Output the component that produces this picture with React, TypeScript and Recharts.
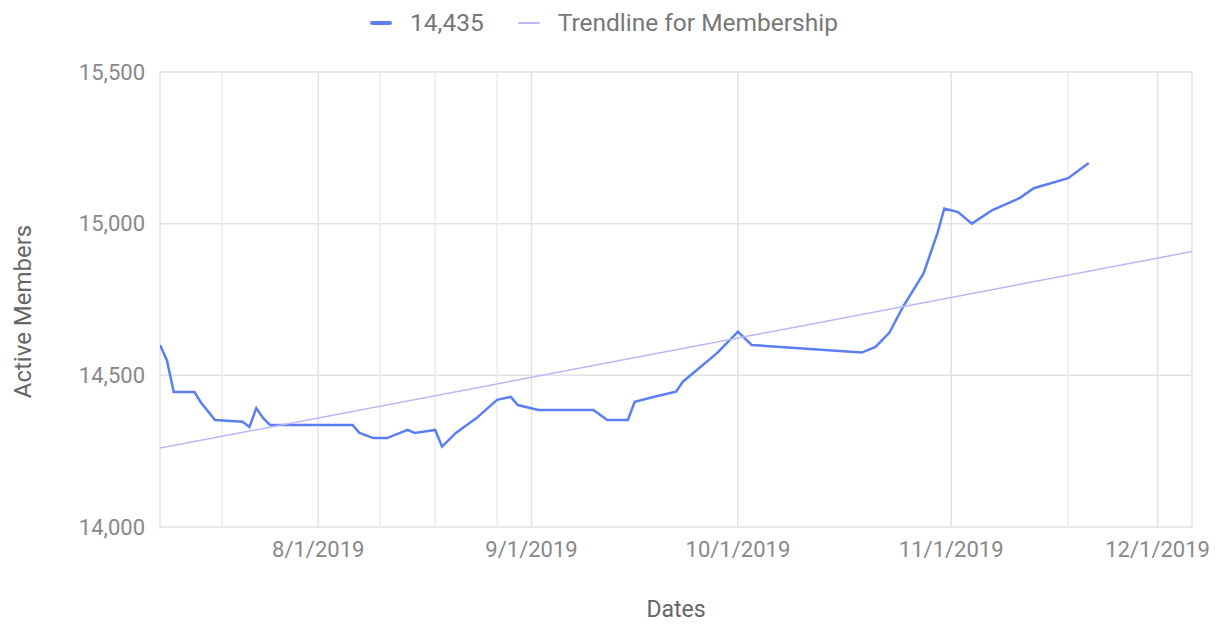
import { CartesianGrid, Legend, Line, LineChart, ReferenceLine, XAxis, YAxis } from "recharts";

const memberDates = [
  "7/9/2019", "7/10/2019", "7/11/2019", "7/14/2019", "7/15/2019", "7/17/2019", "7/21/2019",
  "7/22/2019", "7/23/2019", "7/24/2019", "7/25/2019", "8/6/2019", "8/7/2019", "8/9/2019",
  "8/11/2019", "8/14/2019", "8/15/2019", "8/18/2019", "8/19/2019", "8/21/2019", "8/24/2019",
  "8/27/2019", "8/29/2019", "8/30/2019", "9/2/2019", "9/10/2019", "9/12/2019", "9/15/2019",
  "9/16/2019", "9/19/2019", "9/22/2019", "9/23/2019", "9/28/2019", "10/1/2019", "10/3/2019",
  "10/19/2019", "10/21/2019", "10/23/2019", "10/25/2019", "10/28/2019", "10/30/2019",
  "10/31/2019", "11/2/2019", "11/4/2019", "11/7/2019", "11/11/2019", "11/13/2019",
  "11/18/2019", "11/21/2019",
];
const memberCounts = [
  14600, 14550, 14445, 14445, 14409, 14353, 14347,
  14330, 14392, 14359, 14336, 14336, 14310, 14293,
  14293, 14320, 14310, 14320, 14265, 14310, 14359,
  14419, 14429, 14402, 14386, 14386, 14353, 14353,
  14413, 14430, 14446, 14479, 14574, 14644, 14600,
  14575, 14594, 14640, 14726, 14837, 14969,
  15050, 15038, 15000, 15045, 15085, 15117,
  15150, 15200,
];

const trendDates = ["7/9/2019", "12/6/2019"];
const trendValues = [14260, 14908];

const xTickDates = ["8/1/2019", "9/1/2019", "10/1/2019", "11/1/2019", "12/1/2019"];
const minorGridDates = ["7/18/2019", "8/10/2019", "8/18/2019", "8/27/2019", "11/18/2019"];
const yTicks = [14000, 14500, 15000, 15500];

const toTime = (s: string) => {
  const [m, d, y] = s.split("/").map(Number);
  return Date.UTC(y, m - 1, d);
};
const fmtDate = (t: number) => {
  const d = new Date(t);
  return `${d.getUTCMonth() + 1}/${d.getUTCDate()}/${d.getUTCFullYear()}`;
};

const members = memberDates.map((date, i) => ({ t: toTime(date), members: memberCounts[i] }));
const trend = trendDates.map((date, i) => ({ t: toTime(date), trend: trendValues[i] }));

const FONT = "Roboto, 'Noto Sans', sans-serif";

function LegendContent({ payload }: any) {
  return (
    <div style={{ display: "flex", justifyContent: "center", alignItems: "center", paddingRight: 16, fontFamily: FONT, fontSize: 24.5, color: "#777" }}>
      {(payload || []).map((p: any, i: number) => (
        <div key={i} style={{ display: "flex", alignItems: "center", marginRight: i === 0 ? 34 : 0 }}>
          <span style={{ display: "inline-block", width: 22, height: i === 0 ? 4 : 2, borderRadius: 2, background: p.color, marginRight: 18 }} />
          <span>{p.value}</span>
        </div>
      ))}
    </div>
  );
}

function YTitle({ viewBox }: any) {
  const cy = viewBox.y + viewBox.height / 2 + 12;
  return (
    <text x={31} y={cy} transform={`rotate(-90, 31, ${cy})`} textAnchor="middle" fill="#666" fontSize={24} fontFamily={FONT}>
      Active Members
    </text>
  );
}

export default function App() {
  return (
    <div style={{ position: "absolute", left: 0, top: 0, width: 1224, height: 627, background: "#fff" }}>
      <LineChart width={1224} height={627} margin={{ top: 72, right: 32, bottom: 0, left: 0 }}>
        <CartesianGrid stroke="#e2e2e2" strokeWidth={1.5} />
        {minorGridDates.map((d) => (
          <ReferenceLine key={d} x={toTime(d)} stroke="#ececec" strokeWidth={1.5} />
        ))}
        <XAxis
          dataKey="t"
          type="number"
          domain={[toTime("7/9/2019"), toTime("12/6/2019")]}
          ticks={xTickDates.map(toTime)}
          tickFormatter={fmtDate}
          allowDataOverflow
          axisLine={false}
          tickLine={false}
          tickSize={0}
          tickMargin={14}
          height={100}
          tick={{ fill: "#888", fontSize: 22, fontFamily: FONT }}
          label={{ value: "Dates", position: "insideBottom", offset: 10, fill: "#666", fontSize: 23, fontFamily: FONT }}
        />
        <YAxis
          type="number"
          domain={[14000, 15500]}
          ticks={yTicks}
          tickFormatter={(v: number) => v.toLocaleString("en-US")}
          axisLine={false}
          tickLine={false}
          tickSize={0}
          tickMargin={15}
          width={160}
          tick={{ fill: "#888", fontSize: 22, fontFamily: FONT }}
          label={<YTitle />}
        />
        <Legend
          verticalAlign="middle"
          layout="horizontal"
          align="center"
          wrapperStyle={{ top: 8, left: 0, width: 1224 }}
          content={<LegendContent />}
        />
        <Line
          data={members}
          dataKey="members"
          name="14,435"
          stroke="#5b7ef3"
          strokeWidth={2.5}
          dot={false}
          isAnimationActive={false}
        />
        <Line
          data={trend}
          dataKey="trend"
          name="Trendline for Membership"
          stroke="#bcb6f2"
          strokeWidth={1.5}
          dot={false}
          isAnimationActive={false}
        />
      </LineChart>
    </div>
  );
}
